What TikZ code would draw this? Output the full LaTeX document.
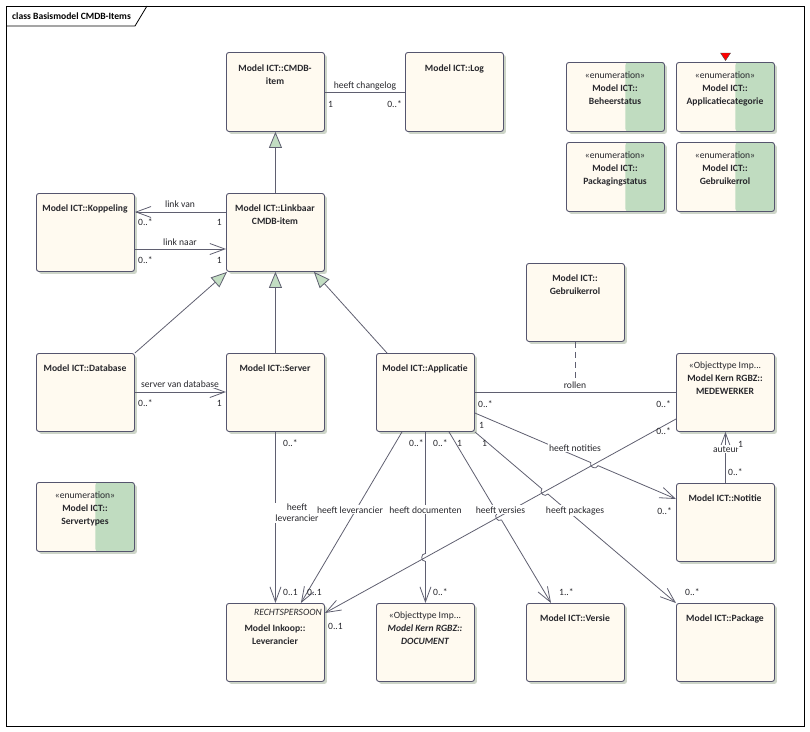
\documentclass[tikz,border=0pt]{standalone}
\usepackage{fontspec}
\setmainfont{Carlito}
\usetikzlibrary{arrows.meta,calc,shadows,intersections}
\definecolor{cream}{RGB}{255,250,240}
\definecolor{enumg}{RGB}{192,220,192}
\definecolor{bline}{RGB}{85,85,110}
\definecolor{shad}{RGB}{205,213,200}
\definecolor{cline}{RGB}{95,95,112}
\definecolor{txt}{RGB}{40,40,45}
\definecolor{trig}{RGB}{195,222,195}
\newcommand\dgfs{\fontsize{9.6}{11}\selectfont}
\newcommand\dghop[4]{%
  \path[name path=#3p] (#1) -- (#2);
  \path[name intersections={of=mp and #3p, by=#3x}];
  \coordinate (#3h1) at ($(#3x)!4pt!(#1)$);
  \coordinate (#3h2) at ($(#3x)!4pt!(#2)$);
  \draw[assoc,#4] (#1) -- (#3h1) .. controls ($(#3h1)!5pt!-90:(#3h2)$) and ($(#3h2)!5pt!90:(#3h1)$) .. (#3h2) -- (#2);
}
\begin{document}
\begin{tikzpicture}[x=1pt,y=-1pt,
  box/.style={draw=bline, fill=cream, rounded corners=2.5pt, line width=0.9pt, inner sep=0pt,
    anchor=north west, minimum width=98pt, minimum height=78pt,
    drop shadow={shadow xshift=2.5pt, shadow yshift=-2.5pt, fill=shad, opacity=1}},
  enumbox/.style={box, minimum height=69pt,
    path picture={\fill[enumg] ([xshift=-39pt]path picture bounding box.north east) rectangle (path picture bounding box.south east);}},
  ttl/.style={anchor=base, font=\dgfs\bfseries, text=txt, inner sep=0pt},
  st/.style={anchor=base, font=\dgfs, text=txt, inner sep=0pt},
  bi/.style={anchor=base, font=\dgfs\bfseries\itshape, text=txt, inner sep=0pt},
  lab/.style={anchor=base, font=\dgfs, text=txt, fill=white, inner sep=1pt},
  mul/.style={font=\dgfs, text=txt, inner sep=0pt},
  assoc/.style={draw=cline, line width=0.8pt},
  oarr/.style={-{Straight Barb[length=15pt,width=11pt]}},
  gen/.style={draw=cline, line width=0.8pt, -{Triangle[length=16pt,width=13pt,fill=trig]}}
]
\useasboundingbox (0,0) rectangle (810,731);
% frame
\node[draw=black, line width=0.8pt, anchor=north west, minimum width=798pt, minimum height=720pt, inner sep=0pt] (frame) at (6,6) {};
\draw[black, line width=0.8pt] (6,26) -- (135,26) -- (147,6);
\node[anchor=base west, font=\dgfs\bfseries, text=black, inner sep=0pt] (ftitle) at (12,19) {class Basismodel CMDB-Items};

% boxes
\node[box, minimum height=79pt] (cmdb) at (226,52) {};
\node[box, minimum height=79pt] (log) at (405,52) {};
\node[enumbox] (beh) at (566,62) {};
\node[enumbox] (appcat) at (676,62) {};
\node[enumbox] (pkgst) at (566,142) {};
\node[enumbox] (gebenum) at (676,142) {};
\node[box] (kop) at (36,193) {};
\node[box] (link) at (226,193) {};
\node[box] (db) at (36,353) {};
\node[box] (srv) at (226,353) {};
\node[box] (app) at (376,353) {};
\node[box] (gebr) at (526,263) {};
\node[box] (med) at (676,353) {};
\node[box] (noti) at (676,483) {};
\node[enumbox] (srvt) at (36,482) {};
\node[box] (leve) at (226,603) {};
\node[box] (doc) at (376,603) {};
\node[box] (ver) at (526,603) {};
\node[box] (pkg) at (676,603) {};

% red marker
\fill[red, draw=black!70, line width=0.4pt] (720.5,53) -- (730.5,53) -- (725.5,60.5) -- cycle;

% box texts
\node[ttl] (t1a) at (275,71) {Model ICT::CMDB-};
\node[ttl] (t1b) at (275,84) {item};
\node[ttl] (t2) at (454.5,71) {Model ICT::Log};
\node[st] (t3a) at (615,78) {«enumeration»};
\node[ttl] (t3b) at (615,91) {Model ICT::};
\node[ttl] (t3c) at (615,104) {Beheerstatus};
\node[st] (t4a) at (725,78) {«enumeration»};
\node[ttl] (t4b) at (725,91) {Model ICT::};
\node[ttl] (t4c) at (725,104) {Applicatiecategorie};
\node[st] (t5a) at (615,158) {«enumeration»};
\node[ttl] (t5b) at (615,171) {Model ICT::};
\node[ttl] (t5c) at (615,184) {Packagingstatus};
\node[st] (t6a) at (725,158) {«enumeration»};
\node[ttl] (t6b) at (725,171) {Model ICT::};
\node[ttl] (t6c) at (725,184) {Gebruikerrol};
\node[ttl] (t7) at (85,211) {Model ICT::Koppeling};
\node[ttl] (t8a) at (275,211) {Model ICT::Linkbaar};
\node[ttl] (t8b) at (275,224) {CMDB-item};
\node[ttl] (t9) at (85,371) {Model ICT::Database};
\node[ttl] (t10) at (275,371) {Model ICT::Server};
\node[ttl] (t11) at (425,371) {Model ICT::Applicatie};
\node[ttl] (t12a) at (575,281) {Model ICT::};
\node[ttl] (t12b) at (575,294) {Gebruikerrol};
\node[st] (t13a) at (725,368) {«Objecttype Imp...};
\node[ttl] (t13b) at (725,381) {Model Kern RGBZ::};
\node[ttl] (t13c) at (725,394) {MEDEWERKER};
\node[ttl] (t14) at (725,501) {Model ICT::Notitie};
\node[st] (t15a) at (85,498) {«enumeration»};
\node[ttl] (t15b) at (85,511) {Model ICT::};
\node[ttl] (t15c) at (85,524) {Servertypes};
\node[anchor=base east, font=\dgfs\itshape, text=txt, inner sep=0pt] (t16a) at (322,615) {RECHTSPERSOON};
\node[ttl] (t16b) at (275,631) {Model Inkoop::};
\node[ttl] (t16c) at (275,644) {Leverancier};
\node[st] (t17a) at (425,618) {«Objecttype Imp...};
\node[bi] (t17b) at (425,631) {Model Kern RGBZ::};
\node[bi] (t17c) at (425,644) {DOCUMENT};
\node[ttl] (t18) at (575,621) {Model ICT::Versie};
\node[ttl] (t19) at (725,621) {Model ICT::Package};

% generalizations
\draw[gen] (link.north) -- (cmdb.south);
\draw[gen] (srv.north) -- (link.south);
\draw[gen] (db.north east) -- ($(link.south west)+(1,0)$);
\draw[gen] ($(app.north west)+(11,0)$) -- ($(link.south east)+(-11,0)$);

% associations
\draw[assoc] ($(cmdb.north east)+(0,40)$) -- ($(log.north west)+(0,40)$);
\draw[assoc,oarr] ($(link.north west)+(0,19)$) -- ($(kop.north east)+(0,19)$);
\draw[assoc,oarr] ($(kop.north east)+(0,56)$) -- ($(link.north west)+(0,56)$);
\draw[assoc,oarr] ($(db.north east)+(0,39)$) -- ($(srv.north west)+(0,39)$);
\coordinate (rolA) at ($(app.north east)+(0,39)$);
\coordinate (rolB) at ($(med.north west)+(0,39)$);
\draw[assoc] (rolA) -- (rolB);
\draw[assoc, dash pattern=on 6pt off 4pt] (gebr.south) -- (gebr.south |- rolA);
\coordinate (mA) at ($(med.north west)+(0,66)$);
\coordinate (mB) at ($(leve.north east)+(0,10)$);
\path[name path=mp] (mA) -- (mB);
\draw[assoc,oarr] (mA) -- (mB);
\draw[assoc,oarr] (srv.south) -- (leve.north);
\draw[assoc,oarr] ($(app.south west)+(26,0)$) -- ($(leve.north east)+(-24,0)$);
\coordinate (dA) at (app.south);
\coordinate (dB) at (doc.north);
\dghop{dA}{dB}{dd}{oarr}
\coordinate (vA) at ($(app.south west)+(73,0)$);
\coordinate (vB) at ($(ver.north west)+(25,0)$);
\dghop{vA}{vB}{vv}{oarr}
\coordinate (pA) at (app.south east);
\coordinate (pB) at (pkg.north west);
\dghop{pA}{pB}{pp}{oarr}
\coordinate (nA) at ($(app.north east)+(0,60)$);
\coordinate (nB) at ($(noti.north west)+(0,16)$);
\dghop{nA}{nB}{nn}{oarr}
\draw[assoc,oarr] (noti.north) -- (med.south);

% association labels
\node[lab] (l1) at (365,88) {heeft changelog};
\node[lab] (l2) at (180,207) {link van};
\node[lab] (l3) at (180,245) {link naar};
\node[lab] (l4) at (180,387) {server van database};
\node[lab] (l5) at (575,388) {rollen};
\node[lab] (l6) at (575,451) {heeft notities};
\node[lab, align=center, anchor=north] (l7) at (297,503) {heeft\\leverancier};
\node[lab] (l8) at (350,513) {heeft leverancier};
\node[lab] (l9) at (425.5,513) {heeft documenten};
\node[lab] (l10) at (500.5,513) {heeft versies};
\node[lab] (l11) at (575,513) {heeft packages};
\node[lab] (l12) at (726,452) {auteur};

% multiplicities
\node[mul, anchor=base west] (m1) at (328,107) {1};
\node[mul, anchor=base east] (m2) at (402,107) {0..*};
\node[mul, anchor=base west] (m3) at (138,225) {0..*};
\node[mul, anchor=base east] (m4) at (222,225) {1};
\node[mul, anchor=base west] (m5) at (138,263) {0..*};
\node[mul, anchor=base east] (m6) at (222,263) {1};
\node[mul, anchor=base west] (m7) at (138,406) {0..*};
\node[mul, anchor=base east] (m8) at (222,406) {1};
\node[mul, anchor=base west] (m9) at (478,407) {0..*};
\node[mul, anchor=base east] (m10) at (671,407) {0..*};
\node[mul, anchor=base east] (m11) at (671,434) {0..*};
\node[mul, anchor=base west] (m12) at (328,629) {0..1};
\node[mul, anchor=base west] (m13) at (283,446) {0..*};
\node[mul, anchor=base west] (m14) at (283,595) {0..1};
\node[mul, anchor=base west] (m15) at (409,446) {0..*};
\node[mul, anchor=base west] (m16) at (307,595) {0..1};
\node[mul, anchor=base west] (m17) at (433,446) {0..*};
\node[mul, anchor=base west] (m18) at (433,595) {0..*};
\node[mul, anchor=base west] (m19) at (457,446) {1};
\node[mul, anchor=base west] (m20) at (559,595) {1..*};
\node[mul, anchor=base west] (m21) at (482,446) {1};
\node[mul, anchor=base west] (m22) at (685,595) {0..*};
\node[mul, anchor=base west] (m23) at (479,428) {1};
\node[mul, anchor=base east] (m24) at (672,514) {0..*};
\node[mul, anchor=base west, fill=white, inner sep=1pt] (m25) at (737,447) {1};
\node[mul, anchor=base west] (m26) at (728,475) {0..*};
\end{tikzpicture}
\end{document}
